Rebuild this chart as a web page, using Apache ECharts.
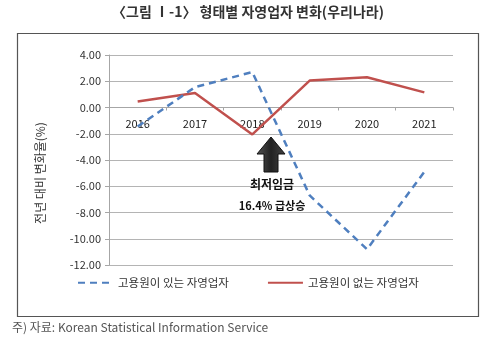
<!DOCTYPE html>
<html>
<head>
<meta charset="utf-8">
<script src="https://cdn.jsdelivr.net/npm/echarts@6/dist/echarts.min.js"></script>
<style>
  html, body { margin: 0; padding: 0; background: #fff; }
  #chart { width: 496px; height: 346px; }
</style>
</head>
<body>
<div id="chart"></div>
<script>
// 연도
const years = ['2016', '2017', '2018', '2019', '2020', '2021'];
// 고용원이 있는 자영업자 전년 대비 변화율(%)
const withEmployees = [-1.45, 1.55, 2.7, -6.7, -10.8, -4.9];
// 고용원이 없는 자영업자 전년 대비 변화율(%)
const withoutEmployees = [0.45, 1.1, -2.05, 2.05, 2.3, 1.15];
// y축 눈금 범위
const yMin = -12, yMax = 4, yStep = 2;

const FONT = '"Noto Sans CJK KR", "Noto Sans", sans-serif';

const GRID = { left: 109, top: 55, width: 344, height: 210 };
// 0 기준선까지의 거리만큼 x축을 위로 올림
const zeroOffset = -GRID.height * (0 - yMin) / (yMax - yMin);

const chart = echarts.init(document.getElementById('chart'), null, { renderer: 'canvas' });

chart.setOption({
  animation: false,
  backgroundColor: '#ffffff',
  textStyle: { fontFamily: FONT },
  grid: Object.assign({ containLabel: false }, GRID),
  xAxis: {
    type: 'category',
    data: years,
    boundaryGap: true,
    offset: zeroOffset,
    axisLine: { onZero: false, lineStyle: { color: '#a6a6a6', width: 1 } },
    axisTick: { show: true, length: 3, lineStyle: { color: '#a6a6a6' } },
    axisLabel: { color: '#222', fontSize: 11, margin: 11, fontFamily: FONT },
    splitLine: { show: false }
  },
  yAxis: {
    type: 'value',
    min: yMin,
    max: yMax,
    interval: yStep,
    axisLine: { show: true, lineStyle: { color: '#a6a6a6', width: 1 } },
    axisTick: { show: true, length: 4, lineStyle: { color: '#a6a6a6' } },
    axisLabel: {
      color: '#333', fontSize: 11, margin: 8, fontFamily: FONT,
      formatter: v => v.toFixed(2)
    },
    splitLine: { show: true, lineStyle: { color: '#b4b4b4', width: 1 } }
  },
  legend: {
    top: 277,
    left: 77,
    padding: 0,
    itemWidth: 35,
    itemHeight: 10,
    itemGap: 38,
    itemStyle: { opacity: 0 },
    textStyle: { color: '#333', fontSize: 11.5, fontFamily: FONT },
    data: ['고용원이 있는 자영업자', '고용원이 없는 자영업자']
  },
  series: [
    {
      name: '고용원이 있는 자영업자',
      type: 'line',
      data: withEmployees,
      symbol: 'none',
      color: '#4f7fbf',
      lineStyle: { color: '#4f7fbf', width: 2.5, type: [7, 5] },
      z: 3
    },
    {
      name: '고용원이 없는 자영업자',
      type: 'line',
      data: withoutEmployees,
      symbol: 'none',
      color: '#c0504d',
      lineStyle: { color: '#c0504d', width: 2.5 },
      z: 2
    }
  ],
  graphic: [
    // 차트 테두리
    {
      type: 'rect', left: 15, top: 31, z: -1,
      shape: { width: 461, height: 283 },
      style: { fill: 'none', stroke: '#555', lineWidth: 1.2 }
    },
    // 제목
    {
      type: 'text', left: 'center', top: 5,
      style: { text: '〈그림 Ⅰ-1〉 형태별 자영업자 변화(우리나라)', fill: '#333',
               font: 'bold 14px ' + FONT }
    },
    // y축 이름
    {
      type: 'text', x: 40, y: 173, rotation: Math.PI / 2,
      style: { text: '전년 대비 변화율(%)', fill: '#333', font: '12px ' + FONT,
               align: 'center', verticalAlign: 'middle' }
    },
    // 최저임금 급상승 화살표
    {
      type: 'polygon', z: 10,
      shape: { points: [[271, 137], [285, 154], [278, 154], [278, 172], [264, 172], [264, 154], [257, 154]] },
      style: {
        fill: new echarts.graphic.LinearGradient(0, 0, 1, 0, [
          { offset: 0, color: '#555' }, { offset: 0.5, color: '#222' }, { offset: 1, color: '#444' }
        ]),
        stroke: '#111', lineWidth: 1
      }
    },
    {
      type: 'text', x: 272, y: 184, z: 10,
      style: { text: '최저임금', fill: '#111', font: 'bold 12px ' + FONT,
               align: 'center', verticalAlign: 'middle' }
    },
    {
      type: 'text', x: 272, y: 206, z: 10,
      style: { text: '16.4% 급상승', fill: '#111', font: 'bold 11px ' + FONT,
               align: 'center', verticalAlign: 'middle' }
    },
    // 출처
    {
      type: 'text', left: 12, top: 321,
      style: { text: '주) 자료: Korean Statistical Information Service', fill: '#555',
               font: '12px ' + FONT }
    }
  ]
});
</script>
</body>
</html>
